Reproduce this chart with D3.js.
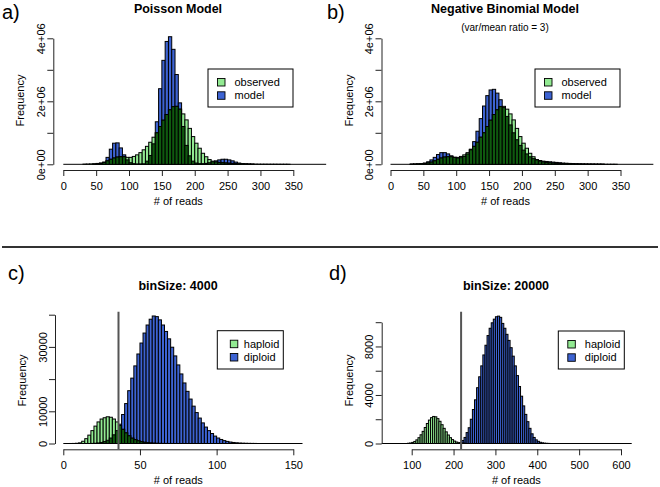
<!DOCTYPE html>
<html>
<head>
<meta charset="utf-8">
<script src="https://cdn.jsdelivr.net/npm/d3@7"></script>
<style>
body { margin: 0; background: #fff; }
svg { font-family: "Liberation Sans", Arial, Helvetica, sans-serif; }
</style>
</head>
<body>
<svg id="chart" width="660" height="487"></svg>
<script>
// ---- data ----
// panels a) and b): bins of 5 reads, counts in millions, first bin starts at 30
var readBinStart = 30, readBinWidth = 5;
var observedReads = [0.005, 0.008, 0.012, 0.018, 0.028, 0.045, 0.07, 0.11, 0.16, 0.2,
  0.23, 0.24, 0.24, 0.22, 0.22, 0.25, 0.3, 0.37, 0.46, 0.57,
  0.7, 0.86, 1.0, 1.2, 1.4, 1.58, 1.73, 1.83, 1.84, 1.75,
  1.6, 1.41, 1.14, 0.88, 0.67, 0.51, 0.35, 0.24, 0.15, 0.1,
  0.075, 0.06, 0.05, 0.042, 0.035, 0.028, 0.022, 0.017, 0.013, 0.01,
  0.008, 0.006, 0.005, 0.004, 0.003, 0.003, 0.002, 0.002, 0.002, 0.001,
  0.001, 0.001, 0.001];
var poissonModel = [0, 0, 0, 0.002, 0.008, 0.025, 0.06, 0.22, 0.48, 0.67,
  0.68, 0.52, 0.3, 0.14, 0.05, 0.02, 0.01, 0.01, 0.015, 0.1,
  0.28, 0.65, 1.35, 2.4, 3.3, 3.9, 4.05, 3.65, 2.85, 1.95,
  1.2, 0.6, 0.27, 0.1, 0.04, 0.02, 0.02, 0.03, 0.05, 0.08,
  0.11, 0.14, 0.16, 0.16, 0.14, 0.11, 0.07, 0.04, 0.02, 0.01,
  0.005, 0.002];
var negBinModel = [0.002, 0.005, 0.01, 0.02, 0.04, 0.08, 0.14, 0.22, 0.31, 0.37,
  0.37, 0.33, 0.27, 0.22, 0.2, 0.21, 0.25, 0.33, 0.48, 0.72,
  1.05, 1.45, 1.85, 2.18, 2.36, 2.38, 2.26, 2.05, 1.8, 1.52,
  1.25, 1.0, 0.78, 0.6, 0.45, 0.33, 0.24, 0.18, 0.14, 0.12,
  0.1, 0.09, 0.08, 0.07, 0.06, 0.05, 0.04, 0.034, 0.028, 0.022,
  0.017, 0.013, 0.01, 0.008, 0.006, 0.004, 0.003, 0.002, 0.001];

// panel c): binSize 4000, bins of 2 reads
var haploid4000Start = 4, diploid4000Start = 18, reads4000Width = 2;
var haploid4000 = [5, 20, 70, 200, 700, 1500, 2600, 4000, 5400, 6700,
  7600, 8000, 8300, 8150, 7600, 6700, 5600, 4400, 3300, 2400,
  1650, 1200, 850, 580, 380, 240, 150, 90, 55, 32,
  18, 10, 5, 3];
var diploid4000 = [30, 80, 170, 330, 600, 1000, 1700, 2700, 4000, 6000,
  9000, 12400, 16400, 20300, 24100, 27800, 31200, 34300, 36800, 38600,
  39600, 39400, 38400, 36800, 34800, 32500, 29900, 27200, 24400, 21600,
  18800, 16200, 13800, 11600, 9600, 7900, 6400, 5100, 4000, 3100,
  2300, 1700, 1250, 900, 650, 450, 320, 220, 150, 100,
  70, 45, 30, 20];

// panel d): binSize 20000, bins of 5 reads
var haploid20000Start = 90, diploid20000Start = 215, reads20000Width = 5;
var haploid20000 = [20, 40, 90, 170, 300, 480, 720, 1000, 1320, 1650,
  1930, 2130, 2230, 2200, 2050, 1830, 1550, 1250, 960, 700,
  480, 320, 200, 120, 70, 40, 20, 10];
var diploid20000 = [60, 250, 500, 900, 1300, 2000, 2800, 3600, 4600, 5500,
  6400, 7300, 8100, 8900, 9500, 9950, 10250, 10450, 10500, 10400,
  9900, 9500, 9000, 8500, 7900, 7200, 6400, 5600, 4700, 3900,
  3100, 2400, 1800, 1250, 800, 500, 300, 180, 100, 55,
  30, 15, 8];

var cutoff4000 = 36, cutoff20000 = 218;

var readTicks = [0, 50, 100, 150, 200, 250, 300, 350];
var freqTicksReads = [0, 1e6, 2e6, 3e6, 4e6];
var freqLabelsReads = ["0e+00", "", "2e+06", "", "4e+06"];
var readTicks4000 = [0, 50, 100, 150];
var freqTicks4000 = [0, 10000, 20000, 30000, 40000];
var freqLabels4000 = ["0", "10000", "", "30000", ""];
var readTicks20000 = [100, 200, 300, 400, 500, 600];
var freqTicks20000 = [0, 2000, 4000, 6000, 8000, 10000];
var freqLabels20000 = ["0", "", "4000", "", "8000", ""];

var legendReads = ["observed", "model"];
var legendPloidy = ["haploid", "diploid"];

// ---- drawing ----
var GREEN = "#92ea92", BLUE = "#3d63d2", DARK = "#0f5a0f";
var svg = d3.select("#chart");

function series(start, width, values, scale) {
  return values.map(function (v, i) { return { x0: start + i * width, x1: start + (i + 1) * width, v: v * scale }; });
}

// min of both series per bin, the part where the two histograms overlap
function overlap(a, b) {
  var m = new Map();
  b.forEach(function (d) { m.set(Math.round(d.x0 * 100), d); });
  return a.filter(function (d) { return m.has(Math.round(d.x0 * 100)); })
    .map(function (d) { var o = m.get(Math.round(d.x0 * 100)); return { x0: d.x0, x1: d.x1, v: Math.min(d.v, o.v) }; });
}

var panels = [
  { tag: "a)", tagX: 2, title: "Poisson Model", titleX: 178,
    green: series(readBinStart, readBinWidth, observedReads, 1e6),
    blue: series(readBinStart, readBinWidth, poissonModel, 1e6),
    base: [0, 400], x: d3.scaleLinear().domain([0, 350]).range([63.3, 293.3]),
    y: d3.scaleLinear().domain([0, 4e6]).range([164.3, 38.3]),
    box: [53.3, 31, 329, 170], xt: readTicks, yt: freqTicksReads, yl: freqLabelsReads,
    legend: legendReads, lg: [208, 69, 85, 38] },
  { tag: "b)", tagX: 327, title: "Negative Binomial Model", titleX: 505, sub: "(var/mean ratio = 3)",
    green: series(readBinStart, readBinWidth, observedReads, 1e6),
    blue: series(readBinStart, readBinWidth, negBinModel, 1e6),
    base: [0, 400], x: d3.scaleLinear().domain([0, 350]).range([390.5, 620.5]),
    y: d3.scaleLinear().domain([0, 4e6]).range([164.3, 38.3]),
    box: [381.5, 31, 657, 170], xt: readTicks, yt: freqTicksReads, yl: freqLabelsReads,
    legend: legendReads, lg: [535, 69, 85, 38] },
  { tag: "c)", tagX: 8, title: "binSize: 4000", titleX: 178,
    green: series(haploid4000Start, reads4000Width, haploid4000, 1),
    blue: series(diploid4000Start, reads4000Width, diploid4000, 1),
    base: [0, 156], x: d3.scaleLinear().domain([0, 150]).range([63.3, 293.3]),
    y: d3.scaleLinear().domain([0, 40000]).range([443.5, 314.7]),
    box: [55, 311.5, 303, 449.3], xt: readTicks4000, yt: freqTicks4000, yl: freqLabels4000,
    cut: cutoff4000, legend: legendPloidy, lg: [217.3, 330.7, 66, 38.3] },
  { tag: "d)", tagX: 329, title: "binSize: 20000", titleX: 506,
    green: series(haploid20000Start, reads20000Width, haploid20000, 1),
    blue: series(diploid20000Start, reads20000Width, diploid20000, 1),
    base: [25, 630], x: d3.scaleLinear().domain([100, 600]).range([411.7, 621]),
    y: d3.scaleLinear().domain([0, 10000]).range([443.5, 322.2]),
    box: [381.7, 311.5, 631.7, 449.3], xt: readTicks20000, yt: freqTicks20000, yl: freqLabels20000,
    cut: cutoff20000, legend: legendPloidy, lg: [558.3, 331, 66, 38] }
];

panels.forEach(function (p, k) {
  var g = svg.append("g");
  var left = p.box[0], top = p.box[1], right = p.box[2], bottom = p.box[3];
  var clipId = "clip" + k;
  svg.append("clipPath").attr("id", clipId).append("rect")
    .attr("x", left).attr("y", top).attr("width", right - left).attr("height", bottom - top);

  var plot = g.append("g").attr("clip-path", "url(#" + clipId + ")");
  var y0 = p.y(0);

  plot.append("line")
    .attr("x1", p.x(p.base[0])).attr("x2", p.x(p.base[1]))
    .attr("y1", y0).attr("y2", y0)
    .attr("stroke", "#000").attr("stroke-width", 1);

  function bars(data, fill) {
    plot.append("g").selectAll("rect")
      .data(data.filter(function (d) { return d.v > 0; }))
      .enter().append("rect")
      .attr("x", function (d) { return p.x(d.x0); })
      .attr("width", function (d) { return p.x(d.x1) - p.x(d.x0); })
      .attr("y", function (d) { return p.y(d.v); })
      .attr("height", function (d) { return y0 - p.y(d.v); })
      .attr("fill", fill)
      .attr("stroke", "#000").attr("stroke-width", 1);
  }
  bars(p.blue, BLUE);
  bars(p.green, GREEN);
  bars(overlap(p.green, p.blue), DARK);

  if (p.cut !== undefined) {
    plot.append("line")
      .attr("x1", p.x(p.cut)).attr("x2", p.x(p.cut))
      .attr("y1", top).attr("y2", bottom)
      .attr("stroke", "#555").attr("stroke-width", 2);
  }

  // axes
  var xa = g.append("g").attr("transform", "translate(0," + bottom + ")")
    .call(d3.axisBottom(p.x).tickValues(p.xt).tickFormat(d3.format("d")).tickSize(6).tickSizeOuter(0));
  xa.selectAll("text").attr("y", 19.5).attr("dy", 0).attr("font-size", 11).attr("fill", "#000");

  var ya = g.append("g").attr("transform", "translate(" + left + ",0)")
    .call(d3.axisLeft(p.y).tickValues(p.yt).tickFormat(function (d, i) { return p.yl[i]; }).tickSize(6).tickSizeOuter(0));
  ya.selectAll("text")
    .attr("transform", "rotate(-90)")
    .attr("x", 0).attr("y", -8.5).attr("dy", 0)
    .attr("text-anchor", "middle").attr("font-size", 11).attr("fill", "#000");

  [xa, ya].forEach(function (a) {
    a.select(".domain").attr("stroke", "#222");
    a.selectAll(".tick line").attr("stroke", "#222");
  });

  // labels
  g.append("text").attr("x", (p.x(p.xt[0]) + p.x(p.xt[p.xt.length - 1])) / 2)
    .attr("y", bottom + 35).attr("text-anchor", "middle").attr("font-size", 11)
    .text("# of reads");
  var cy = (top + bottom) / 2;
  g.append("text").attr("transform", "translate(" + (left - 29) + "," + cy + ") rotate(-90)")
    .attr("text-anchor", "middle").attr("font-size", 11).text("Frequency");

  g.append("text").attr("x", p.titleX).attr("y", k < 2 ? 13 : 290)
    .attr("text-anchor", "middle").attr("font-size", 12.5).attr("font-weight", "bold").text(p.title);
  if (p.sub) {
    g.append("text").attr("x", p.titleX).attr("y", 30.5)
      .attr("text-anchor", "middle").attr("font-size", 10).text(p.sub);
  }
  g.append("text").attr("x", p.tagX).attr("y", k < 2 ? 18.5 : 280)
    .attr("font-size", 20).text(p.tag);

  // legend
  var lg = g.append("g").attr("transform", "translate(" + p.lg[0] + "," + p.lg[1] + ")");
  lg.append("rect").attr("width", p.lg[2]).attr("height", p.lg[3])
    .attr("fill", "#fff").attr("stroke", "#000").attr("stroke-width", 1);
  var sx = k === 2 ? 13 : 9.5;
  p.legend.forEach(function (name, i) {
    lg.append("rect").attr("x", sx).attr("y", 9.5 + i * 13.3).attr("width", 7.5).attr("height", 7.5)
      .attr("fill", i === 0 ? GREEN : BLUE).attr("stroke", "#000").attr("stroke-width", 0.9);
    lg.append("text").attr("x", 26.5).attr("y", 17 + i * 13.3)
      .attr("font-size", 11).text(name);
  });
});

// separator between the two rows
svg.append("line").attr("x1", 2).attr("x2", 658).attr("y1", 247).attr("y2", 247)
  .attr("stroke", "#333").attr("stroke-width", 2);
</script>
</body>
</html>
